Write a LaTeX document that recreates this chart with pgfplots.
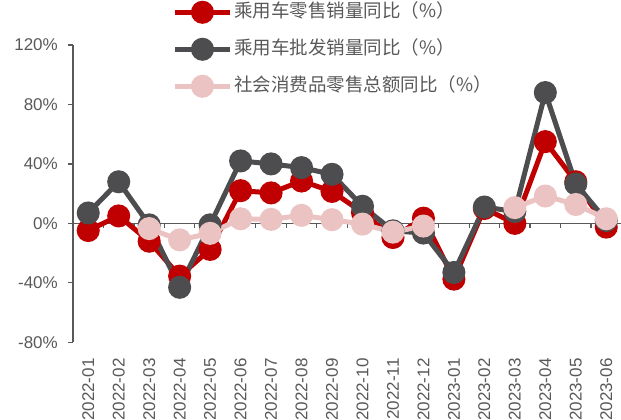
\documentclass[border=0pt]{standalone}
\usepackage{pgfplots}
\pgfplotsset{compat=1.18}
\usepackage{pgfplotstable}
\usepackage{fontspec}
\setmainfont{Liberation Sans}
\newfontfamily\cjk{Noto Sans CJK SC}
\definecolor{cRed}{HTML}{C00000}
\definecolor{cGray}{HTML}{4D4D4F}
\definecolor{cPink}{HTML}{EBC3C3}
\definecolor{cText}{HTML}{595959}

\pgfplotstableread{
x red gray pink
0 -4.8 7 nan
1 5 28 nan
2 -12 -1 -3.5
3 -35.5 -43 -11.1
4 -17.5 -1 -6.7
5 22 42 3.1
6 20.5 40 2.7
7 28.5 37.5 5.4
8 21.5 33 2.5
9 7.3 11.5 -0.5
10 -9.5 -5 -5.9
11 3.5 -6.5 -1.8
12 -37.5 -33 nan
13 10 11 nan
14 0 8 10.6
15 55 88 18.4
16 28 26.5 12.7
17 -2.5 2 3.1
}\datatable

\begin{document}
\begin{tikzpicture}
\useasboundingbox (0bp,0bp) rectangle (621bp,420bp);
\begin{axis}[
  at={(73bp,77.7bp)}, anchor=south west,
  scale only axis, width=548.5bp, height=297.3bp,
  xmin=-0.5, xmax=17.5, ymin=-80, ymax=120,
  clip=false,
  axis x line*=bottom, axis y line*=left,
  x axis line style={draw=none},
  y axis line style={cText, line width=1.2bp},
  xtick={0,...,17},
  xticklabels={2022-01,2022-02,2022-03,2022-04,2022-05,2022-06,2022-07,2022-08,2022-09,2022-10,2022-11,2022-12,2023-01,2023-02,2023-03,2023-04,2023-05,2023-06},
  xtick style={draw=none},
  xticklabel style={rotate=90, anchor=east, inner sep=0pt, text=cText, font=\fontsize{17bp}{20bp}\selectfont},
  xticklabel shift=11bp,
  ytick={-80,-40,0,40,80,120},
  ytick style={cText, line width=1.2bp},
  tick align=outside, major tick length=5bp,
  yticklabel={\pgfmathprintnumber{\tick}\%},
  yticklabel style={text=cText, inner sep=0pt, font=\fontsize{17bp}{20bp}\selectfont},
  yticklabel shift=10bp,
  /pgf/number format/assume math mode=true,
  unbounded coords=jump,
  legend style={at={(axis description cs:0.181,1.141)}, anchor=north west, draw=none, fill=none,
    font=\cjk\fontsize{18.5bp}{22bp}\selectfont, text=cText, row sep=19bp, column sep=2bp,
    inner sep=0pt, nodes={inner sep=0pt, text height=14bp, text depth=4bp}},
  legend cell align=left,
  legend image code/.code={\draw[mark repeat=2,mark phase=2,#1] plot coordinates {(0bp,0bp)(27.5bp,0bp)(55bp,0bp)};},
]
\draw[cText, line width=1.2bp] (axis cs:-0.5,0) -- (axis cs:17.5,0);
\pgfplotsinvokeforeach{0,...,16}{\draw[cText, line width=1.2bp] (axis cs:#1+0.5,0) -- ++(0bp,-5bp);}
\addplot[cRed, line width=5bp, mark=*, mark size=9bp, mark options={draw=none, fill=cRed}] table[x=x, y=red] {\datatable};
\addlegendentry{乘用车零售销量同比（\%）}
\addplot[cGray, line width=5bp, mark=*, mark size=9bp, mark options={draw=none, fill=cGray}] table[x=x, y=gray] {\datatable};
\addlegendentry{乘用车批发销量同比（\%）}
\addplot[cPink, line width=5bp, mark=*, mark size=9bp, mark options={draw=none, fill=cPink}] table[x=x, y=pink] {\datatable};
\addlegendentry{社会消费品零售总额同比（\%）}
\end{axis}
\end{tikzpicture}
\end{document}
